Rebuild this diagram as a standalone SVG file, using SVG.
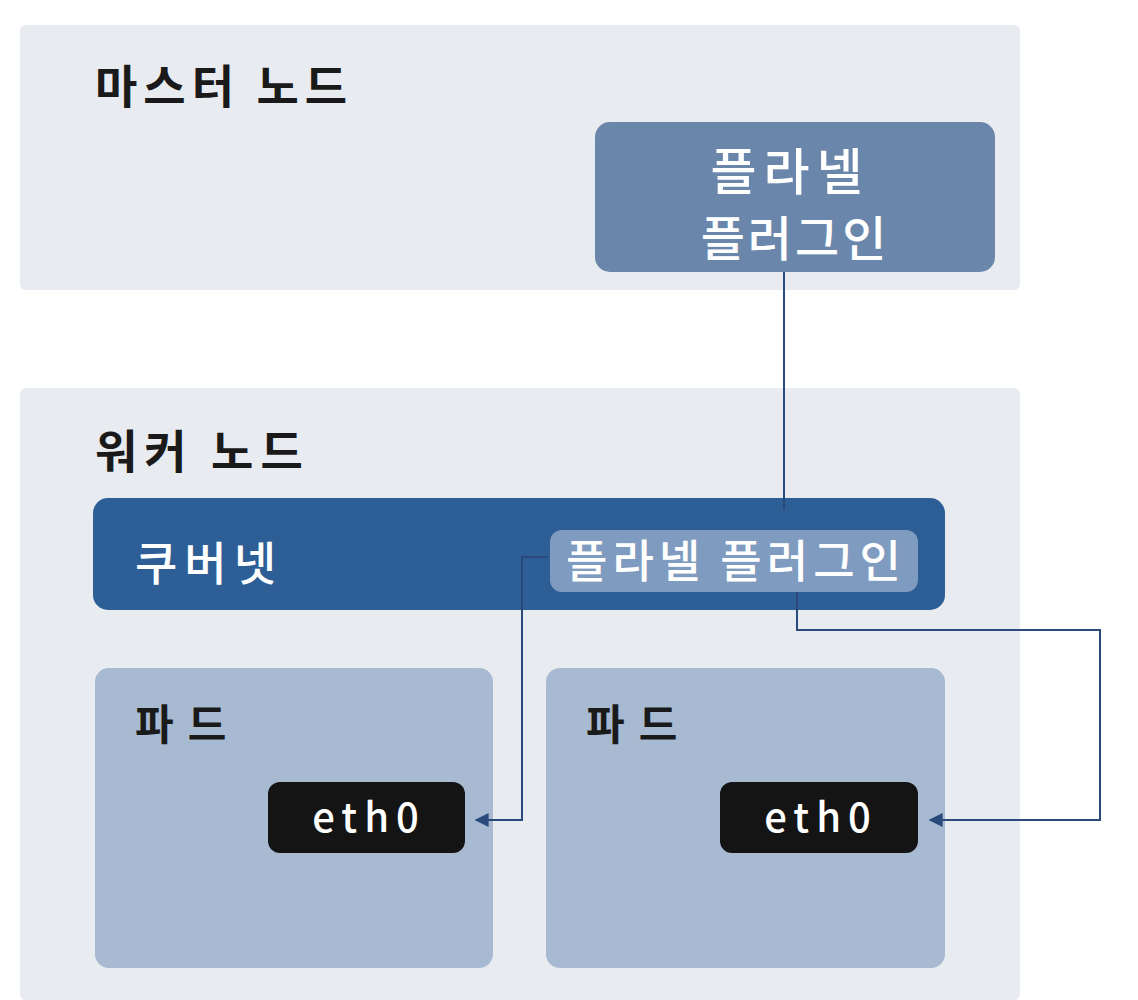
<svg xmlns="http://www.w3.org/2000/svg" width="1138" height="1000" viewBox="0 0 1138 1000">
<defs>
<style>
.panel{fill:#e8ebf0}
.title{font-family:"Noto Sans CJK KR","Noto Sans",sans-serif;font-weight:700;fill:#1a1a1a}
.wt{font-family:"Noto Sans CJK KR","Noto Sans",sans-serif;font-weight:500;fill:#ffffff}
.pod{fill:#a8bad2}
.eth{fill:#141414}
.conn{fill:none;stroke:#2b4a7c;stroke-width:2}
</style>
<marker id="arr" viewBox="0 0 10 10" refX="9" refY="5" markerWidth="7" markerHeight="7" orient="auto">
<path d="M0,0 L10,5 L0,10 z" fill="#2b4a7c"/>
</marker>
</defs>
<rect width="1138" height="1000" fill="#ffffff"/>
<g id="master-node">
<rect class="panel" x="20" y="25" width="1000" height="265" rx="6"/>
<text class="title" x="95" y="103" font-size="46" letter-spacing="6">마스터 노드</text>
</g>
<g id="master-plugin">
<rect x="595" y="122" width="400" height="150" rx="15" fill="#6a87ab"/>
<text class="wt" x="790" y="190" font-size="50" text-anchor="middle" letter-spacing="7">플라넬</text>
<text class="wt" x="795" y="256" font-size="48" text-anchor="middle" letter-spacing="3">플러그인</text>
</g>
<g id="worker-node">
<rect class="panel" x="20" y="388" width="1000" height="612" rx="6"/>
<text class="title" x="95" y="468" font-size="46" letter-spacing="7">워커 노드</text>
</g>
<g id="kubernetes">
<rect x="93" y="498" width="852" height="112" rx="15" fill="#2e5e96"/>
<text class="wt" x="135" y="580" font-size="46" letter-spacing="7">쿠버넷</text>
</g>
<g id="worker-plugin">
<rect x="550" y="530" width="368" height="62" rx="12" fill="#7f9bbf"/>
<text class="wt" x="736" y="578" font-size="45" text-anchor="middle" letter-spacing="5">플라넬 플러그인</text>
</g>
<g id="pod1">
<rect class="pod" x="95" y="668" width="398" height="300" rx="14"/>
<text class="title" x="135" y="740" font-size="42" letter-spacing="14">파드</text>
</g>
<g id="eth0-1">
<rect class="eth" x="268" y="782" width="197" height="71" rx="12"/>
<text class="wt" x="369" y="832" font-size="40" text-anchor="middle" letter-spacing="7" font-family="Noto Sans, sans-serif">eth0</text>
</g>
<g id="pod2">
<rect class="pod" x="546" y="668" width="399" height="300" rx="14"/>
<text class="title" x="586" y="740" font-size="42" letter-spacing="14">파드</text>
</g>
<g id="eth0-2">
<rect class="eth" x="720" y="782" width="198" height="71" rx="12"/>
<text class="wt" x="821" y="832" font-size="40" text-anchor="middle" letter-spacing="7" font-family="Noto Sans, sans-serif">eth0</text>
</g>
<g id="connectors">
<path class="conn" d="M784,272 L784,510"/>
<path class="conn" d="M548,557 L522,557 L522,820 L476,820" marker-end="url(#arr)"/>
<path class="conn" d="M797,592 L797,630 L1100,630 L1100,820 L930,820" marker-end="url(#arr)"/>
</g>
</svg>
